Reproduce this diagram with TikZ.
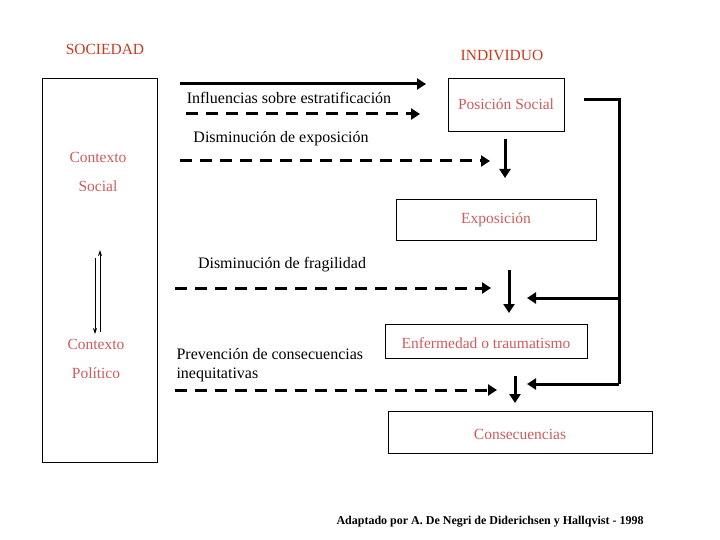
\documentclass[tikz,border=0pt]{standalone}
\usepackage{fontspec}
\setmainfont{Liberation Serif}
\usetikzlibrary{arrows.meta}
\definecolor{hdr}{HTML}{C83A1E}
\definecolor{pink}{HTML}{D05A5A}
\begin{document}
\begin{tikzpicture}[x=1pt,y=-1pt,
  box/.style={draw,line width=0.8pt,inner sep=0pt},
  lab/.style={font=\fontsize{16}{19}\selectfont},
  rlab/.style={font=\fontsize{15.5}{18}\selectfont,text=pink},
  hlab/.style={font=\fontsize{15.5}{18}\selectfont,text=hdr},
  solidarr/.style={line width=3pt,-{Triangle[length=9pt,width=11pt]}},
  dasharr/.style={line width=3pt,dash pattern=on 12pt off 8pt,-{Triangle[length=9pt,width=11pt]}},
  thinarr/.style={line width=0.8pt,-{Stealth[length=6pt,width=4pt]}}]
\useasboundingbox (0,0) rectangle (720,540);
\node[box,minimum width=115pt,minimum height=384pt] (soc) at (99.5,270) {};
\node[hlab] (sociedad) at (105,49) {SOCIEDAD};
\node[hlab] (individuo) at (502,55) {INDIVIDUO};
\node[rlab] (cs1) at (98,157) {Contexto};
\node[rlab] (cs2) at (98,186) {Social};
\node[rlab] (cp1) at (96,344) {Contexto};
\node[rlab] (cp2) at (96,373) {Político};
\coordinate (u1) at (100,332); \coordinate (u2) at (100,250);
\coordinate (d1) at (95,258); \coordinate (d2) at (95,334);
\draw[thinarr] (u1) -- (u2);
\draw[thinarr] (d1) -- (d2);
\node[box,minimum width=116pt,minimum height=53pt] (pos) at (506,104.5) {};
\node[rlab] at (pos) {Posición Social};
\node[box,minimum width=200pt,minimum height=41pt] (expo) at (496,219.5) {};
\node[rlab] at (expo) {Exposición};
\node[box,minimum width=202pt,minimum height=34pt] (enf) at (486,341) {};
\node[rlab] at (486,343) {Enfermedad o traumatismo};
\node[box,minimum width=264pt,minimum height=42pt] (cons) at (520,432) {};
\node[rlab] at (520,434) {Consecuencias};
\coordinate (a1) at (180,84); \coordinate (a2) at (426,84);
\draw[solidarr] (a1) -- (a2);
\node[lab] (l1) at (289,98) {Influencias sobre estratificación};
\coordinate (b1) at (186,114); \coordinate (b2) at (420,114);
\draw[dasharr] (b1) -- (b2);
\node[lab] (l2) at (281,139) {Disminución de exposición};
\coordinate (c1) at (180,161); \coordinate (c2) at (490,161);
\draw[dasharr] (c1) -- (c2);
\coordinate (p1) at (505,139); \coordinate (p2) at (505,178);
\draw[solidarr] (p1) -- (p2);
\node[lab] (l3) at (282,265) {Disminución de fragilidad};
\coordinate (e1) at (175,288); \coordinate (e2) at (491,288);
\draw[dasharr] (e1) -- (e2);
\coordinate (f1) at (509,270); \coordinate (f2) at (509,313);
\draw[solidarr] (f1) -- (f2);
\coordinate (r0) at (584,100); \coordinate (r1) at (619,100);
\coordinate (r2) at (619,298); \coordinate (r3) at (619,384);
\coordinate (r2e) at (527,298); \coordinate (r3e) at (527,384);
\draw[line width=3pt] (r0) -- (r1) -- (r3);
\draw[solidarr] (r2) -- (r2e);
\draw[solidarr] (r3) -- (r3e);
\node[lab,align=left,anchor=west] (l4) at (173,365) {Prevención de consecuencias\\inequitativas};
\coordinate (g1) at (175,390); \coordinate (g2) at (497,390);
\draw[dasharr] (g1) -- (g2);
\coordinate (h1) at (515,376); \coordinate (h2) at (515,403);
\draw[solidarr] (h1) -- (h2);
\node[font=\fontsize{12}{14}\selectfont\bfseries] (foot) at (490,522) {Adaptado por A. De Negri de Diderichsen y Hallqvist - 1998};
\end{tikzpicture}
\end{document}
